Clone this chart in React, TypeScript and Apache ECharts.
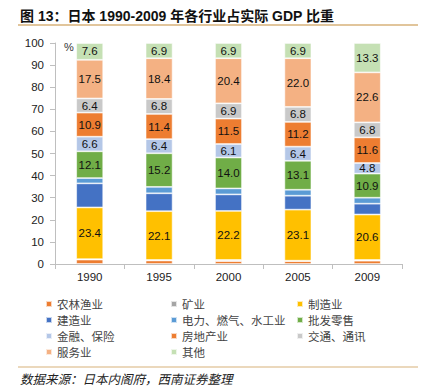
import React, { useEffect, useRef } from "react";
import * as echarts from "echarts";

const years = ["1990", "1995", "2000", "2005", "2009"];
const yTicks = { min: 0, max: 100, interval: 10 };

const agri = [2.0, 1.6, 1.3, 1.3, 1.5];
const mining = [0.2, 0.2, 0.5, 0.2, 0.3];
const manuf = [23.4, 22.1, 22.2, 23.1, 20.6];
const constr = [10.9, 8.1, 7.5, 6.3, 4.9];
const utility = [2.4, 2.9, 2.7, 2.7, 2.7];
const trade = [12.1, 15.2, 14.0, 13.1, 10.9];
const finance = [6.6, 6.4, 6.1, 6.4, 4.8];
const realEstate = [10.9, 11.4, 11.5, 11.2, 11.6];
const transport = [6.4, 6.8, 6.9, 6.8, 6.8];
const services = [17.5, 18.4, 20.4, 22.0, 22.6];
const others = [7.6, 6.9, 6.9, 6.9, 13.3];

const seriesDefs = [
  { name: "农林渔业", data: agri, color: "#ED7D31", label: false },
  { name: "矿业", data: mining, color: "#A5A5A5", label: false },
  { name: "制造业", data: manuf, color: "#FFC000", label: true },
  { name: "建造业", data: constr, color: "#4472C4", label: false },
  { name: "电力、燃气、水工业", data: utility, color: "#5B9BD5", label: false },
  { name: "批发零售", data: trade, color: "#70AD47", label: true },
  { name: "金融、保险", data: finance, color: "#B4C7E7", label: true },
  { name: "房地产业", data: realEstate, color: "#ED7D31", label: true },
  { name: "交通、通讯", data: transport, color: "#C9C9C9", label: true },
  { name: "服务业", data: services, color: "#F4B183", label: true },
  { name: "其他", data: others, color: "#C5E0B4", label: true },
];

const legendCols = [
  ["农林渔业", "建造业", "金融、保险", "服务业"],
  ["矿业", "电力、燃气、水工业", "房地产业", "其他"],
  ["制造业", "批发零售", "交通、通讯"],
];
const legendLeft = [45, 170, 296];

const FONT = "'Liberation Sans', Arial, 'Noto Sans CJK SC', sans-serif";
const CJK = "'Noto Sans CJK SC', sans-serif";

export default function App() {
  const ref = useRef<HTMLDivElement>(null);
  useEffect(() => {
    if (!ref.current) return;
    const chart = echarts.init(ref.current, undefined, { renderer: "svg" });
    chart.setOption({
      animation: false,
      backgroundColor: "#fff",
      grid: { left: 55, right: 25, top: 43, bottom: 123 },
      xAxis: {
        type: "category",
        data: years,
        axisLine: { lineStyle: { color: "#BFBFBF" } },
        axisTick: { show: true, length: 5, lineStyle: { color: "#BFBFBF" } },
        axisLabel: { color: "#222", fontSize: 11.5, fontFamily: FONT, margin: 7 },
      },
      yAxis: {
        type: "value",
        min: yTicks.min,
        max: yTicks.max,
        interval: yTicks.interval,
        axisLine: { show: true, lineStyle: { color: "#BFBFBF" } },
        axisTick: { show: true, length: 5, lineStyle: { color: "#BFBFBF" } },
        splitLine: { show: false },
        axisLabel: { color: "#222", fontSize: 11.5, fontFamily: FONT, margin: 11 },
      },
      legend: legendCols.map((col, i) => ({
        data: col,
        orient: "vertical",
        left: legendLeft[i],
        top: 297,
        padding: 0,
        itemWidth: 6,
        itemHeight: 6,
        itemGap: 2,
        icon: "rect",
        selectedMode: false,
        textStyle: { fontSize: 11.5, lineHeight: 14, color: "#444", fontFamily: CJK },
      })),
      series: seriesDefs.map((s) => ({
        name: s.name,
        type: "bar",
        stack: "total",
        barWidth: 27,
        data: s.data,
        itemStyle: { color: s.color, borderColor: "rgba(255,255,255,0.7)", borderWidth: 0.8 },
        label: {
          show: s.label,
          position: "inside",
          color: "#111",
          fontSize: 11.5,
          fontFamily: FONT,
          formatter: (p: any) => Number(p.value).toFixed(1),
        },
      })),
      graphic: [
        {
          type: "text",
          x: 20,
          y: 16,
          style: {
            text: "图 13：日本 1990-2009 年各行业占实际 GDP 比重",
            fontSize: 14,
            fontWeight: "bold",
            fontFamily: FONT,
            fill: "#111",
            verticalAlign: "middle",
          },
        },
        {
          type: "line",
          shape: { x1: 18, y1: 25, x2: 418, y2: 25 },
          style: { stroke: "#D7B27A", lineWidth: 1.5 },
        },
        {
          type: "text",
          left: 64,
          top: 41,
          style: { text: "%", fontSize: 11, fontFamily: FONT, fill: "#333" },
        },
        {
          type: "line",
          shape: { x1: 18, y1: 367, x2: 418, y2: 367 },
          style: { stroke: "#D7B27A", lineWidth: 1.2 },
        },
        {
          type: "text",
          x: 20,
          y: 378,
          style: {
            text: "数据来源：日本内阁府，西南证券整理",
            fontSize: 12.5,
            lineHeight: 14,
            fontStyle: "italic",
            fontFamily: CJK,
            fill: "#222",
            verticalAlign: "middle",
          },
        },
      ],
    });
    return () => chart.dispose();
  }, []);
  return (
    <div
      ref={ref}
      style={{ position: "fixed", left: 0, top: 0, width: 427, height: 387 }}
    />
  );
}
